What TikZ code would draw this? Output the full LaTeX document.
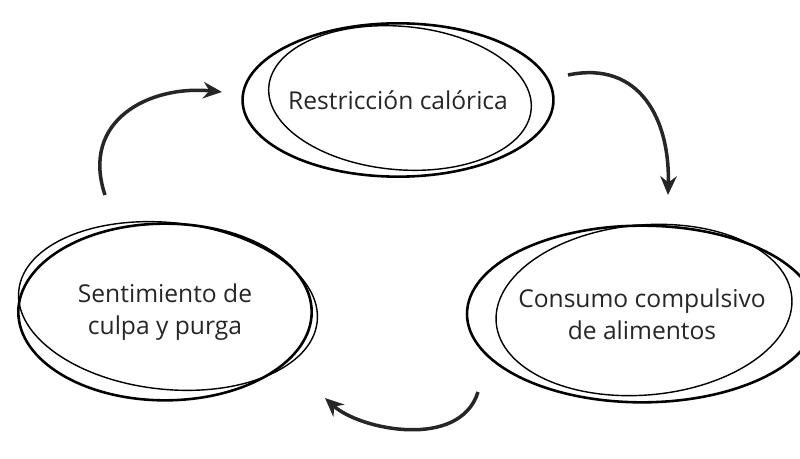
\documentclass[tikz,border=0pt]{standalone}
\usepackage{fontspec}
\setmainfont{Open Sans}
\usetikzlibrary{shapes.geometric,arrows.meta}

\tikzset{
  loop/.style = {draw, ellipse, line width=2.2pt, align=center, inner sep=0pt,
                 font=\fontsize{21}{27}\selectfont, text=black!85},
  echo/.style = {draw, ellipse, line width=1.2pt},
  cyclearrow/.style = {line width=3pt, -{Stealth[length=16pt,width=14pt]}, black!85}
}

\begin{document}
\begin{tikzpicture}[x=0.03cm, y=-0.03cm]
  \useasboundingbox (0,0) rectangle (800,459);
  % states
  \node[loop, minimum width=7.7cm, minimum height=4.6cm] (rest) at (398,100) {Restricción calórica};
  \node[echo, rotate=-5, minimum width=7.9cm, minimum height=4.3cm] (restB) at (400,98) {};
  \node[loop, minimum width=8.8cm, minimum height=5.3cm] (culpa) at (165,312) {Sentimiento de\\culpa y purga};
  \node[echo, rotate=-6, minimum width=9cm, minimum height=5cm] (culpaB) at (168,306) {};
  \node[loop, minimum width=8.7cm, minimum height=5.3cm] (cons) at (642,314) {Consumo compulsivo\\de alimentos};
  \node[echo, rotate=5, minimum width=8.9cm, minimum height=5.1cm] (consB) at (644,310) {};
  % connectors
  \coordinate (a1) at (568,75);
  \coordinate (a2) at (668,195);
  \coordinate (b1) at (478,392);
  \coordinate (b2) at (325,398);
  \coordinate (c1) at (105,195);
  \coordinate (c2) at (222,92);
  \draw[cyclearrow] (a1) .. controls (640,60) and (670,120) .. (a2);
  \draw[cyclearrow] (b1) .. controls (460,450) and (360,430) .. (b2);
  \draw[cyclearrow] (c1) .. controls (80,120) and (150,85) .. (c2);
\end{tikzpicture}
\end{document}
